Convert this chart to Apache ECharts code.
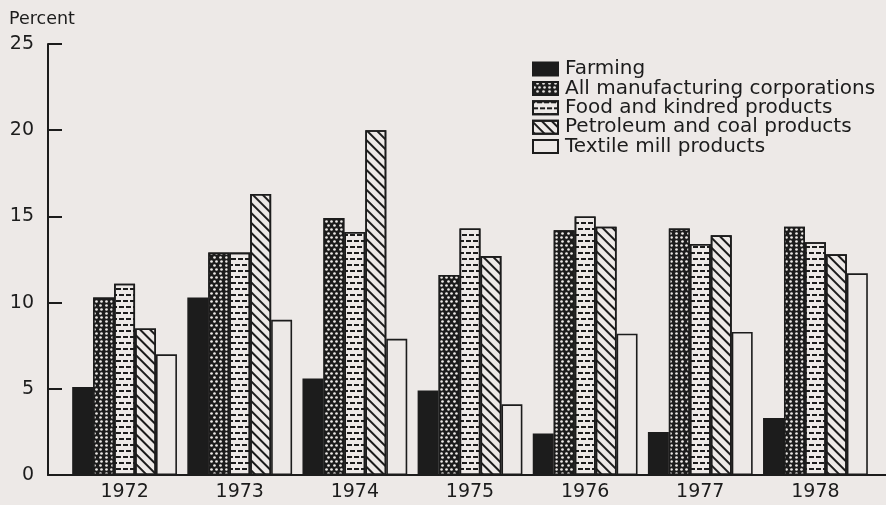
<!DOCTYPE html>
<html>
<head>
<meta charset="utf-8">
<script src="https://cdn.jsdelivr.net/npm/echarts@6/dist/echarts.min.js"></script>
<style>
html,body{margin:0;padding:0;background:#ede9e7;}
#chart{width:886px;height:505px;}
</style>
</head>
<body>
<div id="chart"></div>
<script>
// ---- data ----
const years = ['1972', '1973', '1974', '1975', '1976', '1977', '1978'];
const seriesNames = ['Farming', 'All manufacturing corporations', 'Food and kindred products', 'Petroleum and coal products', 'Textile mill products'];
const farming   = [5.1, 10.3, 5.6, 4.9, 2.4, 2.5, 3.3];
const allMfg    = [10.3, 12.9, 14.9, 11.6, 14.2, 14.3, 14.4];
const food      = [11.1, 12.9, 14.1, 14.3, 15.0, 13.4, 13.5];
const petroleum = [8.5, 16.3, 20.0, 12.7, 14.4, 13.9, 12.8];
const textile   = [7.0, 9.0, 7.9, 4.1, 8.2, 8.3, 11.7];
const yTicks = [0, 5, 10, 15, 20, 25];

const BG = '#ede9e7';
const INK = '#1c1c1c';
const FONT = 'DejaVu Sans';

const styles = [
  { color: INK },
  { color: INK, decal: { symbol: 'circle', symbolSize: 0.9, color: BG, dashArrayX: [[3, 1.6], [0, 2.3, 3, 0]], dashArrayY: [3, 0.3] } },
  { color: BG, decal: { symbol: 'rect', symbolSize: 1, color: INK, dashArrayX: [[5, 2], [2, 2, 3, 0]], dashArrayY: [1.3, 3.2] } },
  { color: BG, decal: { symbol: 'rect', symbolSize: 1, color: INK, dashArrayX: [1, 0], dashArrayY: [1.3, 5], rotation: Math.PI / 4 } },
  { color: BG }
];
const values = [farming, allMfg, food, petroleum, textile];

const series = values.map((v, i) => ({
  name: seriesNames[i],
  type: 'bar',
  xAxisIndex: 0,
  yAxisIndex: 0,
  data: v,
  barGap: '0%',
  barCategoryGap: '9%',
  itemStyle: Object.assign({ borderColor: INK, borderWidth: 1.6 }, styles[i]),
  emphasis: { disabled: true }
}));

const chart = echarts.init(document.getElementById('chart'), null, { renderer: 'canvas' });
chart.setOption({
  backgroundColor: BG,
  animation: false,
  textStyle: { fontFamily: FONT },
  grid: [
    { left: 67, right: 13, top: 44, bottom: 30 },
    { left: 48, right: 0, top: 44, bottom: 30 }
  ],
  legend: {
    orient: 'vertical',
    left: 527,
    top: 54,
    icon: 'rect',
    itemWidth: 25,
    itemHeight: 13,
    itemGap: -0.6,
    data: seriesNames,
    textStyle: { fontFamily: FONT, fontSize: 20, lineHeight: 19, color: INK, padding: [0, 0, 0, 2] }
  },
  xAxis: [
    {
      type: 'category', gridIndex: 0, data: years,
      axisLine: { show: true, lineStyle: { color: INK, width: 2 } },
      axisTick: { show: false },
      axisLabel: { fontFamily: FONT, fontSize: 19, color: INK, margin: 8 }
    },
    {
      type: 'value', gridIndex: 1, min: 0, max: 1,
      axisLine: { show: true, onZero: false, lineStyle: { color: INK, width: 2 } },
      axisTick: { show: false }, axisLabel: { show: false }, splitLine: { show: false }
    }
  ],
  yAxis: [
    {
      type: 'value', gridIndex: 0, min: 0, max: 25, interval: 5, offset: 19,
      name: 'Percent', nameLocation: 'end', nameGap: 16,
      nameTextStyle: { fontFamily: FONT, fontSize: 17.5, color: INK, align: 'left', padding: [0, 0, 0, -39] },
      axisLine: { show: true, lineStyle: { color: INK, width: 2 } },
      axisTick: { show: true, inside: true, length: 14, lineStyle: { color: INK, width: 2 } },
      axisLabel: { fontFamily: FONT, fontSize: 19, color: INK, margin: 14,
        formatter: v => yTicks.includes(v) ? String(v) : '' },
      splitLine: { show: false }
    },
    {
      type: 'value', gridIndex: 1, min: 0, max: 1, show: false
    }
  ],
  series: series
});
</script>
</body>
</html>
